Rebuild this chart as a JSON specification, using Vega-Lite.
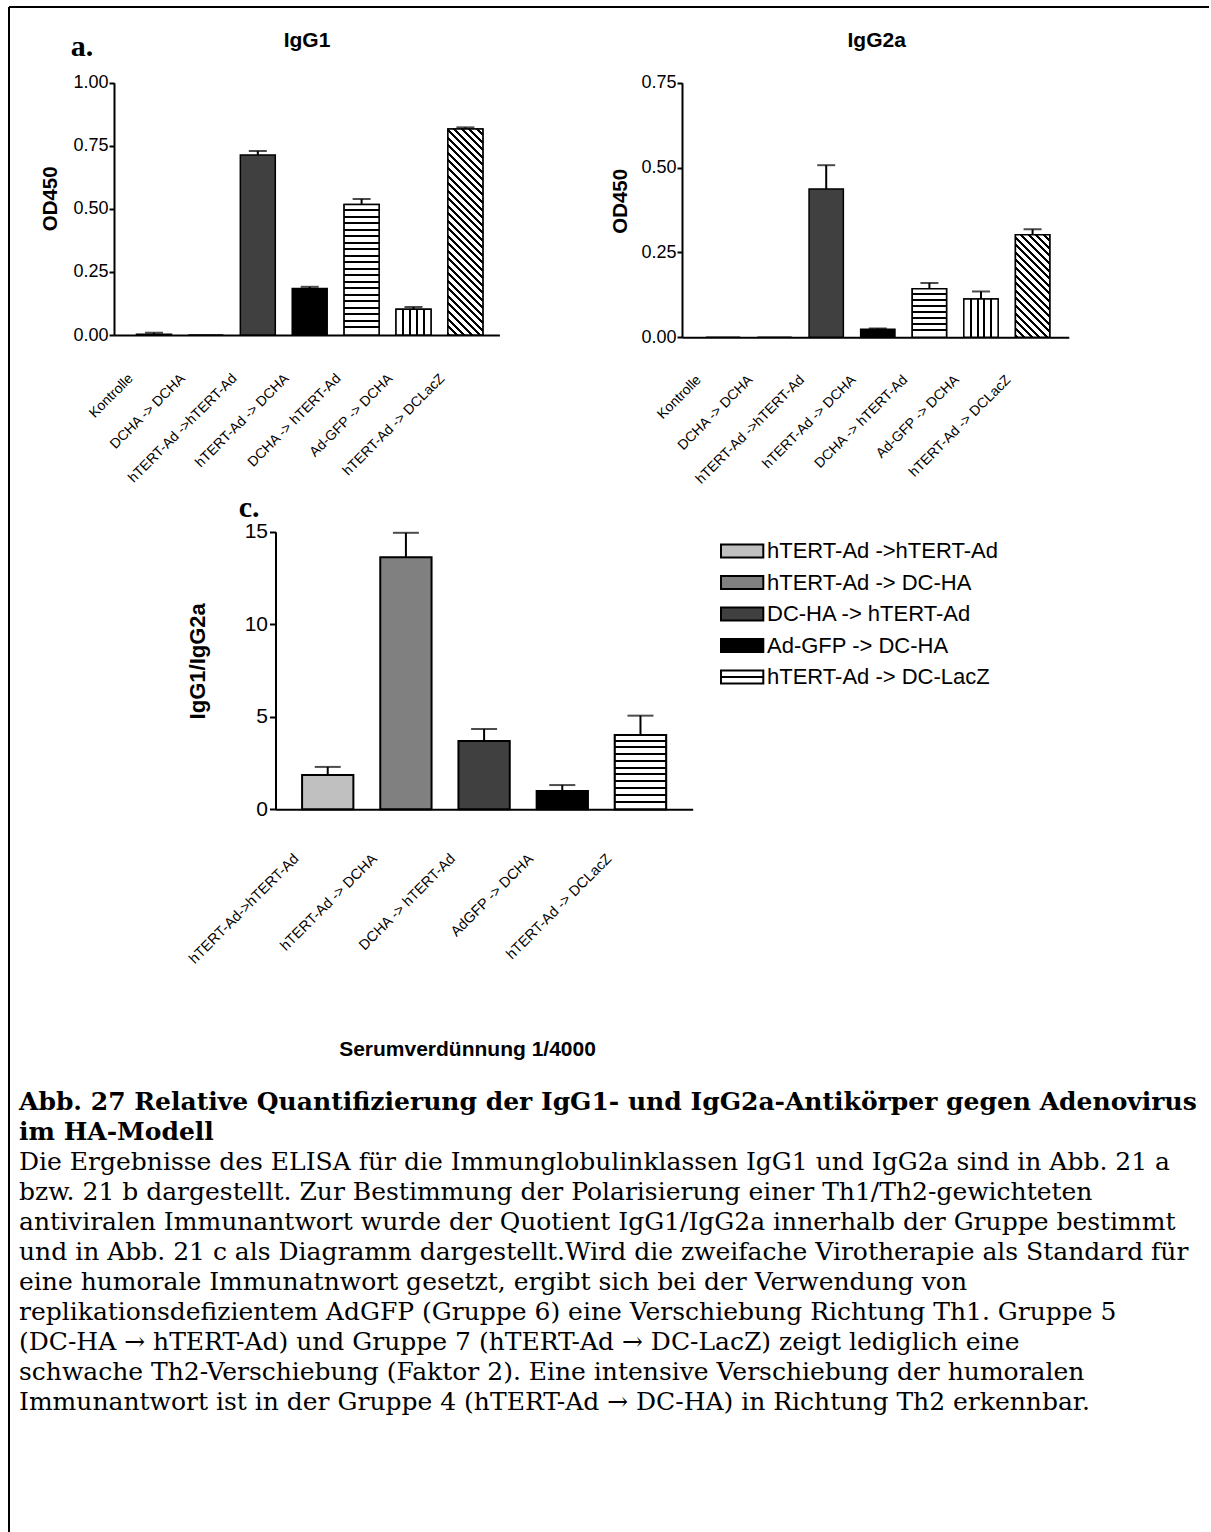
{
  "$schema": "https://vega.github.io/schema/vega-lite/v6.json",
  "width": 1202,
  "height": 1525,
  "autosize": {"type": "none"},
  "padding": {"left": 9, "top": 7, "right": 0, "bottom": 0},
  "background": "white",
  "config": {
    "font": "Liberation Sans",
    "view": {"stroke": "black", "strokeWidth": 2, "strokeDash": [1200, 2729, 1525, 0]},
    "axis": {"domainColor": "black", "domainWidth": 2, "tickColor": "black", "tickWidth": 2, "labelColor": "black", "titleColor": "black", "labelFont": "Liberation Sans", "titleFont": "Liberation Sans", "grid": false}
  },
  "datasets": {
    "igg1": [
      {"gruppe": "Kontrolle", "od": 0.003, "oben": 0.009},
      {"gruppe": "DCHA -> DCHA", "od": 0},
      {"gruppe": "hTERT-Ad ->hTERT-Ad", "od": 0.713, "oben": 0.729},
      {"gruppe": "hTERT-Ad -> DCHA", "od": 0.184, "oben": 0.191},
      {"gruppe": "DCHA -> hTERT-Ad", "od": 0.517, "oben": 0.539},
      {"gruppe": "Ad-GFP -> DCHA", "od": 0.102, "oben": 0.111},
      {"gruppe": "hTERT-Ad -> DCLacZ", "od": 0.816, "oben": 0.823}
    ],
    "igg2a": [
      {"gruppe": "Kontrolle", "od": 0},
      {"gruppe": "DCHA -> DCHA", "od": 0},
      {"gruppe": "hTERT-Ad ->hTERT-Ad", "od": 0.437, "oben": 0.507},
      {"gruppe": "hTERT-Ad -> DCHA", "od": 0.024, "oben": 0.026},
      {"gruppe": "DCHA -> hTERT-Ad", "od": 0.143, "oben": 0.16},
      {"gruppe": "Ad-GFP -> DCHA", "od": 0.113, "oben": 0.135},
      {"gruppe": "hTERT-Ad -> DCLacZ", "od": 0.302, "oben": 0.318}
    ],
    "quotient": [
      {"gruppe": "hTERT-Ad->hTERT-Ad", "legende": "hTERT-Ad ->hTERT-Ad", "quotient": 1.85, "oben": 2.29},
      {"gruppe": "hTERT-Ad -> DCHA", "legende": "hTERT-Ad -> DC-HA", "quotient": 13.62, "oben": 14.94},
      {"gruppe": "DCHA -> hTERT-Ad", "legende": "DC-HA -> hTERT-Ad", "quotient": 3.69, "oben": 4.34},
      {"gruppe": "AdGFP -> DCHA", "legende": "Ad-GFP -> DC-HA", "quotient": 0.99, "oben": 1.31},
      {"gruppe": "hTERT-Ad -> DCLacZ", "legende": "hTERT-Ad -> DC-LacZ", "quotient": 4.02, "oben": 5.06}
    ]
  },
  "layer": [
    {
      "data": {"name": "igg1"},
      "encoding": {
        "x": {"field": "gruppe", "type": "nominal", "sort": null,
          "scale": {"range": [105, 490.4], "paddingInner": 0.326, "paddingOuter": 0.376, "align": 0.577},
          "axis": {"orient": "bottom", "offset": -1197, "title": null, "ticks": false, "tickSize": 0, "labelAngle": -45, "labelAlign": "right", "labelBaseline": "middle", "labelOffset": -23, "labelPadding": 41, "labelFontSize": 14, "labelLimit": 300}},
        "y": {"field": "od", "type": "quantitative",
          "scale": {"domain": [0, 1], "range": [328, 75.7], "nice": false},
          "axis": {"orient": "left", "offset": -105, "values": [0, 0.25, 0.5, 0.75, 1], "format": ".2f", "tickSize": 5, "labelPadding": 1, "labelFontSize": 18, "title": "OD450", "titleFontSize": 20.5, "titleFontWeight": "bold", "titleX": -63.4, "titleY": 191.3, "titleAlign": "center", "titleBaseline": "middle", "titleAngle": -90}}
      },
      "layer": [
        {"mark": {"type": "bar", "stroke": "black", "strokeWidth": 1.5},
         "encoding": {"fill": {"field": "gruppe", "type": "nominal", "legend": null,
           "scale": {"domain": ["Kontrolle", "DCHA -> DCHA", "hTERT-Ad ->hTERT-Ad", "hTERT-Ad -> DCHA", "DCHA -> hTERT-Ad", "Ad-GFP -> DCHA", "hTERT-Ad -> DCLacZ"], "range": ["#ffffff", "#ffffff", "#404040", "#000000", "#ffffff", "#ffffff", "#ffffff"]}}}},
        {"transform": [{"filter": "datum.gruppe === 'DCHA -> hTERT-Ad'"}],
         "mark": {"type": "bar", "stroke": "black", "strokeWidth": 1.5,
           "fill": {"gradient": "linear", "x1": 0, "y1": 0, "x2": 0, "y2": 1, "stops": [
             {"offset":0.034,"color":"#fff"},{"offset":0.034,"color":"#000"},{"offset":0.05,"color":"#000"},{"offset":0.05,"color":"#fff"},
             {"offset":0.084,"color":"#fff"},{"offset":0.084,"color":"#000"},{"offset":0.1,"color":"#000"},{"offset":0.1,"color":"#fff"},
             {"offset":0.134,"color":"#fff"},{"offset":0.134,"color":"#000"},{"offset":0.15,"color":"#000"},{"offset":0.15,"color":"#fff"},
             {"offset":0.184,"color":"#fff"},{"offset":0.184,"color":"#000"},{"offset":0.2,"color":"#000"},{"offset":0.2,"color":"#fff"},
             {"offset":0.234,"color":"#fff"},{"offset":0.234,"color":"#000"},{"offset":0.25,"color":"#000"},{"offset":0.25,"color":"#fff"},
             {"offset":0.284,"color":"#fff"},{"offset":0.284,"color":"#000"},{"offset":0.3,"color":"#000"},{"offset":0.3,"color":"#fff"},
             {"offset":0.334,"color":"#fff"},{"offset":0.334,"color":"#000"},{"offset":0.35,"color":"#000"},{"offset":0.35,"color":"#fff"},
             {"offset":0.384,"color":"#fff"},{"offset":0.384,"color":"#000"},{"offset":0.4,"color":"#000"},{"offset":0.4,"color":"#fff"},
             {"offset":0.434,"color":"#fff"},{"offset":0.434,"color":"#000"},{"offset":0.45,"color":"#000"},{"offset":0.45,"color":"#fff"},
             {"offset":0.484,"color":"#fff"},{"offset":0.484,"color":"#000"},{"offset":0.5,"color":"#000"},{"offset":0.5,"color":"#fff"},
             {"offset":0.534,"color":"#fff"},{"offset":0.534,"color":"#000"},{"offset":0.55,"color":"#000"},{"offset":0.55,"color":"#fff"},
             {"offset":0.584,"color":"#fff"},{"offset":0.584,"color":"#000"},{"offset":0.6,"color":"#000"},{"offset":0.6,"color":"#fff"},
             {"offset":0.634,"color":"#fff"},{"offset":0.634,"color":"#000"},{"offset":0.65,"color":"#000"},{"offset":0.65,"color":"#fff"},
             {"offset":0.684,"color":"#fff"},{"offset":0.684,"color":"#000"},{"offset":0.7,"color":"#000"},{"offset":0.7,"color":"#fff"},
             {"offset":0.734,"color":"#fff"},{"offset":0.734,"color":"#000"},{"offset":0.75,"color":"#000"},{"offset":0.75,"color":"#fff"},
             {"offset":0.784,"color":"#fff"},{"offset":0.784,"color":"#000"},{"offset":0.8,"color":"#000"},{"offset":0.8,"color":"#fff"},
             {"offset":0.834,"color":"#fff"},{"offset":0.834,"color":"#000"},{"offset":0.85,"color":"#000"},{"offset":0.85,"color":"#fff"},
             {"offset":0.884,"color":"#fff"},{"offset":0.884,"color":"#000"},{"offset":0.9,"color":"#000"},{"offset":0.9,"color":"#fff"},
             {"offset":0.934,"color":"#fff"},{"offset":0.934,"color":"#000"},{"offset":0.95,"color":"#000"},{"offset":0.95,"color":"#fff"}]}}},
        {"transform": [{"filter": "datum.gruppe === 'Ad-GFP -> DCHA'"}],
         "mark": {"type": "bar", "stroke": "black", "strokeWidth": 1.5,
           "fill": {"gradient": "linear", "x1": 0, "y1": 0, "x2": 1, "y2": 0, "stops": [
             {"offset":0.17,"color":"#fff"},{"offset":0.17,"color":"#000"},{"offset":0.23,"color":"#000"},{"offset":0.23,"color":"#fff"},
             {"offset":0.37,"color":"#fff"},{"offset":0.37,"color":"#000"},{"offset":0.43,"color":"#000"},{"offset":0.43,"color":"#fff"},
             {"offset":0.57,"color":"#fff"},{"offset":0.57,"color":"#000"},{"offset":0.63,"color":"#000"},{"offset":0.63,"color":"#fff"},
             {"offset":0.77,"color":"#fff"},{"offset":0.77,"color":"#000"},{"offset":0.83,"color":"#000"},{"offset":0.83,"color":"#fff"}]}}},
        {"transform": [{"filter": "datum.gruppe === 'hTERT-Ad -> DCLacZ'"}],
         "mark": {"type": "bar", "stroke": "black", "strokeWidth": 1.5,
           "fill": {"gradient": "linear", "x1": 0, "y1": 1, "x2": 0.1933, "y2": -0.1371, "stops": [
             {"offset":0,"color":"#000"},{"offset":0.0125,"color":"#000"},{"offset":0.0125,"color":"#fff"},
             {"offset":0.03125,"color":"#fff"},{"offset":0.03125,"color":"#000"},{"offset":0.04375,"color":"#000"},{"offset":0.04375,"color":"#fff"},
             {"offset":0.0625,"color":"#fff"},{"offset":0.0625,"color":"#000"},{"offset":0.075,"color":"#000"},{"offset":0.075,"color":"#fff"},
             {"offset":0.09375,"color":"#fff"},{"offset":0.09375,"color":"#000"},{"offset":0.10625,"color":"#000"},{"offset":0.10625,"color":"#fff"},
             {"offset":0.125,"color":"#fff"},{"offset":0.125,"color":"#000"},{"offset":0.1375,"color":"#000"},{"offset":0.1375,"color":"#fff"},
             {"offset":0.15625,"color":"#fff"},{"offset":0.15625,"color":"#000"},{"offset":0.16875,"color":"#000"},{"offset":0.16875,"color":"#fff"},
             {"offset":0.1875,"color":"#fff"},{"offset":0.1875,"color":"#000"},{"offset":0.2,"color":"#000"},{"offset":0.2,"color":"#fff"},
             {"offset":0.21875,"color":"#fff"},{"offset":0.21875,"color":"#000"},{"offset":0.23125,"color":"#000"},{"offset":0.23125,"color":"#fff"},
             {"offset":0.25,"color":"#fff"},{"offset":0.25,"color":"#000"},{"offset":0.2625,"color":"#000"},{"offset":0.2625,"color":"#fff"},
             {"offset":0.28125,"color":"#fff"},{"offset":0.28125,"color":"#000"},{"offset":0.29375,"color":"#000"},{"offset":0.29375,"color":"#fff"},
             {"offset":0.3125,"color":"#fff"},{"offset":0.3125,"color":"#000"},{"offset":0.325,"color":"#000"},{"offset":0.325,"color":"#fff"},
             {"offset":0.34375,"color":"#fff"},{"offset":0.34375,"color":"#000"},{"offset":0.35625,"color":"#000"},{"offset":0.35625,"color":"#fff"},
             {"offset":0.375,"color":"#fff"},{"offset":0.375,"color":"#000"},{"offset":0.3875,"color":"#000"},{"offset":0.3875,"color":"#fff"},
             {"offset":0.40625,"color":"#fff"},{"offset":0.40625,"color":"#000"},{"offset":0.41875,"color":"#000"},{"offset":0.41875,"color":"#fff"},
             {"offset":0.4375,"color":"#fff"},{"offset":0.4375,"color":"#000"},{"offset":0.45,"color":"#000"},{"offset":0.45,"color":"#fff"},
             {"offset":0.46875,"color":"#fff"},{"offset":0.46875,"color":"#000"},{"offset":0.48125,"color":"#000"},{"offset":0.48125,"color":"#fff"},
             {"offset":0.5,"color":"#fff"},{"offset":0.5,"color":"#000"},{"offset":0.5125,"color":"#000"},{"offset":0.5125,"color":"#fff"},
             {"offset":0.53125,"color":"#fff"},{"offset":0.53125,"color":"#000"},{"offset":0.54375,"color":"#000"},{"offset":0.54375,"color":"#fff"},
             {"offset":0.5625,"color":"#fff"},{"offset":0.5625,"color":"#000"},{"offset":0.575,"color":"#000"},{"offset":0.575,"color":"#fff"},
             {"offset":0.59375,"color":"#fff"},{"offset":0.59375,"color":"#000"},{"offset":0.60625,"color":"#000"},{"offset":0.60625,"color":"#fff"},
             {"offset":0.625,"color":"#fff"},{"offset":0.625,"color":"#000"},{"offset":0.6375,"color":"#000"},{"offset":0.6375,"color":"#fff"},
             {"offset":0.65625,"color":"#fff"},{"offset":0.65625,"color":"#000"},{"offset":0.66875,"color":"#000"},{"offset":0.66875,"color":"#fff"},
             {"offset":0.6875,"color":"#fff"},{"offset":0.6875,"color":"#000"},{"offset":0.7,"color":"#000"},{"offset":0.7,"color":"#fff"},
             {"offset":0.71875,"color":"#fff"},{"offset":0.71875,"color":"#000"},{"offset":0.73125,"color":"#000"},{"offset":0.73125,"color":"#fff"},
             {"offset":0.75,"color":"#fff"},{"offset":0.75,"color":"#000"},{"offset":0.7625,"color":"#000"},{"offset":0.7625,"color":"#fff"},
             {"offset":0.78125,"color":"#fff"},{"offset":0.78125,"color":"#000"},{"offset":0.79375,"color":"#000"},{"offset":0.79375,"color":"#fff"},
             {"offset":0.8125,"color":"#fff"},{"offset":0.8125,"color":"#000"},{"offset":0.825,"color":"#000"},{"offset":0.825,"color":"#fff"},
             {"offset":0.84375,"color":"#fff"},{"offset":0.84375,"color":"#000"},{"offset":0.85625,"color":"#000"},{"offset":0.85625,"color":"#fff"},
             {"offset":0.875,"color":"#fff"},{"offset":0.875,"color":"#000"},{"offset":0.8875,"color":"#000"},{"offset":0.8875,"color":"#fff"},
             {"offset":0.90625,"color":"#fff"},{"offset":0.90625,"color":"#000"},{"offset":0.91875,"color":"#000"},{"offset":0.91875,"color":"#fff"},
             {"offset":0.9375,"color":"#fff"},{"offset":0.9375,"color":"#000"},{"offset":0.95,"color":"#000"},{"offset":0.95,"color":"#fff"},
             {"offset":0.96875,"color":"#fff"},{"offset":0.96875,"color":"#000"},{"offset":0.98125,"color":"#000"},{"offset":0.98125,"color":"#fff"}]}}},
        {"mark": {"type": "rule", "color": "black", "strokeWidth": 2},
         "encoding": {"y2": {"field": "oben"}}},
        {"mark": {"type": "tick", "color": "black", "thickness": 2, "size": 18},
         "encoding": {"y": {"field": "oben", "type": "quantitative",
           "scale": {"domain": [0, 1], "range": [328, 75.7], "nice": false},
           "axis": {"orient": "left", "offset": -105, "values": [0, 0.25, 0.5, 0.75, 1], "format": ".2f", "tickSize": 5, "labelPadding": 1, "labelFontSize": 18, "title": "OD450", "titleFontSize": 20.5, "titleFontWeight": "bold", "titleX": -63.4, "titleY": 191.3, "titleAlign": "center", "titleBaseline": "middle", "titleAngle": -90}}}}
      ]
    },
    {
      "data": {"name": "igg2a"},
      "encoding": {
        "x": {"field": "gruppe", "type": "nominal", "sort": null,
          "scale": {"range": [673, 1059.8], "paddingInner": 0.335, "paddingOuter": 0.416, "align": 0.556},
          "axis": {"orient": "bottom", "offset": -1194.7, "title": null, "ticks": false, "tickSize": 0, "labelAngle": -45, "labelAlign": "right", "labelBaseline": "middle", "labelOffset": -24, "labelPadding": 40, "labelFontSize": 14, "labelLimit": 300}},
        "y": {"field": "od", "type": "quantitative",
          "scale": {"domain": [0, 0.75], "range": [330.3, 75.7], "nice": false},
          "axis": {"orient": "left", "offset": -673, "values": [0, 0.25, 0.5, 0.75], "format": ".2f", "tickSize": 5, "labelPadding": 1, "labelFontSize": 18, "title": "OD450", "titleFontSize": 20.5, "titleFontWeight": "bold", "titleX": -61.5, "titleY": 193.8, "titleAlign": "center", "titleBaseline": "middle", "titleAngle": -90}}
      },
      "layer": [
        {"mark": {"type": "bar", "stroke": "black", "strokeWidth": 1.5},
         "encoding": {"fill": {"field": "gruppe", "type": "nominal", "legend": null,
           "scale": {"domain": ["Kontrolle", "DCHA -> DCHA", "hTERT-Ad ->hTERT-Ad", "hTERT-Ad -> DCHA", "DCHA -> hTERT-Ad", "Ad-GFP -> DCHA", "hTERT-Ad -> DCLacZ"], "range": ["#ffffff", "#ffffff", "#404040", "#000000", "#ffffff", "#ffffff", "#ffffff"]}}}},
        {"transform": [{"filter": "datum.gruppe === 'DCHA -> hTERT-Ad'"}],
         "mark": {"type": "bar", "stroke": "black", "strokeWidth": 1.5,
           "fill": {"gradient": "linear", "x1": 0, "y1": 0, "x2": 0, "y2": 1, "stops": [
             {"offset":0.084,"color":"#fff"},{"offset":0.084,"color":"#000"},{"offset":0.125,"color":"#000"},{"offset":0.125,"color":"#fff"},
             {"offset":0.209,"color":"#fff"},{"offset":0.209,"color":"#000"},{"offset":0.25,"color":"#000"},{"offset":0.25,"color":"#fff"},
             {"offset":0.334,"color":"#fff"},{"offset":0.334,"color":"#000"},{"offset":0.375,"color":"#000"},{"offset":0.375,"color":"#fff"},
             {"offset":0.459,"color":"#fff"},{"offset":0.459,"color":"#000"},{"offset":0.5,"color":"#000"},{"offset":0.5,"color":"#fff"},
             {"offset":0.584,"color":"#fff"},{"offset":0.584,"color":"#000"},{"offset":0.625,"color":"#000"},{"offset":0.625,"color":"#fff"},
             {"offset":0.709,"color":"#fff"},{"offset":0.709,"color":"#000"},{"offset":0.75,"color":"#000"},{"offset":0.75,"color":"#fff"},
             {"offset":0.834,"color":"#fff"},{"offset":0.834,"color":"#000"},{"offset":0.875,"color":"#000"},{"offset":0.875,"color":"#fff"}]}}},
        {"transform": [{"filter": "datum.gruppe === 'Ad-GFP -> DCHA'"}],
         "mark": {"type": "bar", "stroke": "black", "strokeWidth": 1.5,
           "fill": {"gradient": "linear", "x1": 0, "y1": 0, "x2": 1, "y2": 0, "stops": [
             {"offset":0.17,"color":"#fff"},{"offset":0.17,"color":"#000"},{"offset":0.23,"color":"#000"},{"offset":0.23,"color":"#fff"},
             {"offset":0.37,"color":"#fff"},{"offset":0.37,"color":"#000"},{"offset":0.43,"color":"#000"},{"offset":0.43,"color":"#fff"},
             {"offset":0.57,"color":"#fff"},{"offset":0.57,"color":"#000"},{"offset":0.63,"color":"#000"},{"offset":0.63,"color":"#fff"},
             {"offset":0.77,"color":"#fff"},{"offset":0.77,"color":"#000"},{"offset":0.83,"color":"#000"},{"offset":0.83,"color":"#fff"}]}}},
        {"transform": [{"filter": "datum.gruppe === 'hTERT-Ad -> DCLacZ'"}],
         "mark": {"type": "bar", "stroke": "black", "strokeWidth": 1.5,
           "fill": {"gradient": "linear", "x1": 0, "y1": 1, "x2": 0.4012, "y2": -0.2002, "stops": [
             {"offset":0,"color":"#000"},{"offset":0.022,"color":"#000"},{"offset":0.022,"color":"#fff"},
             {"offset":0.0556,"color":"#fff"},{"offset":0.0556,"color":"#000"},{"offset":0.0776,"color":"#000"},{"offset":0.0776,"color":"#fff"},
             {"offset":0.1111,"color":"#fff"},{"offset":0.1111,"color":"#000"},{"offset":0.1331,"color":"#000"},{"offset":0.1331,"color":"#fff"},
             {"offset":0.1667,"color":"#fff"},{"offset":0.1667,"color":"#000"},{"offset":0.1887,"color":"#000"},{"offset":0.1887,"color":"#fff"},
             {"offset":0.2222,"color":"#fff"},{"offset":0.2222,"color":"#000"},{"offset":0.2442,"color":"#000"},{"offset":0.2442,"color":"#fff"},
             {"offset":0.2778,"color":"#fff"},{"offset":0.2778,"color":"#000"},{"offset":0.2998,"color":"#000"},{"offset":0.2998,"color":"#fff"},
             {"offset":0.3333,"color":"#fff"},{"offset":0.3333,"color":"#000"},{"offset":0.3553,"color":"#000"},{"offset":0.3553,"color":"#fff"},
             {"offset":0.3889,"color":"#fff"},{"offset":0.3889,"color":"#000"},{"offset":0.4109,"color":"#000"},{"offset":0.4109,"color":"#fff"},
             {"offset":0.4444,"color":"#fff"},{"offset":0.4444,"color":"#000"},{"offset":0.4664,"color":"#000"},{"offset":0.4664,"color":"#fff"},
             {"offset":0.5,"color":"#fff"},{"offset":0.5,"color":"#000"},{"offset":0.522,"color":"#000"},{"offset":0.522,"color":"#fff"},
             {"offset":0.5556,"color":"#fff"},{"offset":0.5556,"color":"#000"},{"offset":0.5776,"color":"#000"},{"offset":0.5776,"color":"#fff"},
             {"offset":0.6111,"color":"#fff"},{"offset":0.6111,"color":"#000"},{"offset":0.6331,"color":"#000"},{"offset":0.6331,"color":"#fff"},
             {"offset":0.6667,"color":"#fff"},{"offset":0.6667,"color":"#000"},{"offset":0.6887,"color":"#000"},{"offset":0.6887,"color":"#fff"},
             {"offset":0.7222,"color":"#fff"},{"offset":0.7222,"color":"#000"},{"offset":0.7442,"color":"#000"},{"offset":0.7442,"color":"#fff"},
             {"offset":0.7778,"color":"#fff"},{"offset":0.7778,"color":"#000"},{"offset":0.7998,"color":"#000"},{"offset":0.7998,"color":"#fff"},
             {"offset":0.8333,"color":"#fff"},{"offset":0.8333,"color":"#000"},{"offset":0.8553,"color":"#000"},{"offset":0.8553,"color":"#fff"},
             {"offset":0.8889,"color":"#fff"},{"offset":0.8889,"color":"#000"},{"offset":0.9109,"color":"#000"},{"offset":0.9109,"color":"#fff"},
             {"offset":0.9444,"color":"#fff"},{"offset":0.9444,"color":"#000"},{"offset":0.9664,"color":"#000"},{"offset":0.9664,"color":"#fff"}]}}},
        {"mark": {"type": "rule", "color": "black", "strokeWidth": 2},
         "encoding": {"y2": {"field": "oben"}}},
        {"mark": {"type": "tick", "color": "black", "thickness": 2, "size": 18},
         "encoding": {"y": {"field": "oben", "type": "quantitative",
           "scale": {"domain": [0, 0.75], "range": [330.3, 75.7], "nice": false},
           "axis": {"orient": "left", "offset": -673, "values": [0, 0.25, 0.5, 0.75], "format": ".2f", "tickSize": 5, "labelPadding": 1, "labelFontSize": 18, "title": "OD450", "titleFontSize": 20.5, "titleFontWeight": "bold", "titleX": -61.5, "titleY": 193.8, "titleAlign": "center", "titleBaseline": "middle", "titleAngle": -90}}}}
      ]
    },
    {
      "data": {"name": "quotient"},
      "encoding": {
        "x": {"field": "gruppe", "type": "nominal", "sort": null,
          "scale": {"range": [266.5, 683.7], "paddingInner": 0.344, "paddingOuter": 0.34, "align": 0.5},
          "axis": {"orient": "bottom", "offset": -722.7, "ticks": false, "tickSize": 0, "labelAngle": -45, "labelAlign": "right", "labelBaseline": "middle", "labelOffset": -31, "labelPadding": 47, "labelFontSize": 14.5, "labelLimit": 300,
            "title": "Serumverdünnung 1/4000", "titleFontSize": 21, "titleFontWeight": "bold", "titleX": 458, "titleY": 240, "titleAlign": "center", "titleBaseline": "middle", "titleAngle": 0}},
        "y": {"field": "quotient", "type": "quantitative",
          "scale": {"domain": [0, 15], "range": [802.3, 524.7], "nice": false},
          "axis": {"orient": "left", "offset": -266.5, "values": [0, 5, 10, 15], "format": "d", "tickSize": 6, "labelPadding": 2, "labelFontSize": 21, "title": "IgG1/IgG2a", "titleFontSize": 22, "titleFontWeight": "bold", "titleX": -77.6, "titleY": 653.8, "titleAlign": "center", "titleBaseline": "middle", "titleAngle": -90}}
      },
      "layer": [
        {"mark": {"type": "bar", "stroke": "black", "strokeWidth": 2},
         "encoding": {"fill": {"field": "legende", "type": "nominal", "sort": null,
           "scale": {"domain": ["hTERT-Ad ->hTERT-Ad", "hTERT-Ad -> DC-HA", "DC-HA -> hTERT-Ad", "Ad-GFP -> DC-HA", "hTERT-Ad -> DC-LacZ"],
             "range": ["#c0c0c0", "#808080", "#404040", "#000000", {"expr": "{gradient: 'linear', x1: 0, y1: 0, x2: 0, y2: 1, stops: [{offset: 0.42, color: '#fff'}, {offset: 0.42, color: '#000'}, {offset: 0.58, color: '#000'}, {offset: 0.58, color: '#fff'}]}"}]},
           "legend": {"orient": "none", "legendX": 707.6, "legendY": 533, "title": null, "symbolType": "M-1,-1H5.41V1H-1Z", "symbolSize": 174.24, "symbolStrokeColor": "black", "symbolStrokeWidth": 2, "symbolOpacity": 1, "labelFont": "Liberation Sans", "labelFontSize": 22, "labelColor": "black", "labelOffset": 28.4, "labelLimit": 500, "rowPadding": 9.5, "padding": 0}}}},
        {"transform": [{"filter": "datum.gruppe === 'hTERT-Ad -> DCLacZ'"}],
         "mark": {"type": "bar", "stroke": "black", "strokeWidth": 2,
           "fill": {"gradient": "linear", "x1": 0, "y1": 0, "x2": 0, "y2": 1, "stops": [
             {"offset":0.0639,"color":"#fff"},{"offset":0.0639,"color":"#000"},{"offset":0.0909,"color":"#000"},{"offset":0.0909,"color":"#fff"},
             {"offset":0.1549,"color":"#fff"},{"offset":0.1549,"color":"#000"},{"offset":0.1818,"color":"#000"},{"offset":0.1818,"color":"#fff"},
             {"offset":0.2457,"color":"#fff"},{"offset":0.2457,"color":"#000"},{"offset":0.2727,"color":"#000"},{"offset":0.2727,"color":"#fff"},
             {"offset":0.3366,"color":"#fff"},{"offset":0.3366,"color":"#000"},{"offset":0.3636,"color":"#000"},{"offset":0.3636,"color":"#fff"},
             {"offset":0.4275,"color":"#fff"},{"offset":0.4275,"color":"#000"},{"offset":0.4545,"color":"#000"},{"offset":0.4545,"color":"#fff"},
             {"offset":0.5185,"color":"#fff"},{"offset":0.5185,"color":"#000"},{"offset":0.5455,"color":"#000"},{"offset":0.5455,"color":"#fff"},
             {"offset":0.6094,"color":"#fff"},{"offset":0.6094,"color":"#000"},{"offset":0.6364,"color":"#000"},{"offset":0.6364,"color":"#fff"},
             {"offset":0.7003,"color":"#fff"},{"offset":0.7003,"color":"#000"},{"offset":0.7273,"color":"#000"},{"offset":0.7273,"color":"#fff"},
             {"offset":0.7912,"color":"#fff"},{"offset":0.7912,"color":"#000"},{"offset":0.8182,"color":"#000"},{"offset":0.8182,"color":"#fff"},
             {"offset":0.8821,"color":"#fff"},{"offset":0.8821,"color":"#000"},{"offset":0.9091,"color":"#000"},{"offset":0.9091,"color":"#fff"}]}}},
        {"mark": {"type": "rule", "color": "black", "strokeWidth": 2},
         "encoding": {"y2": {"field": "oben"}}},
        {"mark": {"type": "tick", "color": "black", "thickness": 2, "size": 26},
         "encoding": {"y": {"field": "oben", "type": "quantitative",
           "scale": {"domain": [0, 15], "range": [802.3, 524.7], "nice": false},
           "axis": {"orient": "left", "offset": -266.5, "values": [0, 5, 10, 15], "format": "d", "tickSize": 6, "labelPadding": 2, "labelFontSize": 21, "title": "IgG1/IgG2a", "titleFontSize": 22, "titleFontWeight": "bold", "titleX": -77.6, "titleY": 653.8, "titleAlign": "center", "titleBaseline": "middle", "titleAngle": -90}}}}
      ]
    },
    {"data": {"values": [{}]}, "mark": {"type": "text", "text": "a.", "x": 61.8, "y": 49, "align": "left", "baseline": "alphabetic", "font": "Liberation Serif", "fontWeight": "bold", "fontSize": 30, "color": "black"}},
    {"data": {"values": [{}]}, "mark": {"type": "text", "text": "IgG1", "x": 298, "y": 40, "align": "center", "baseline": "alphabetic", "font": "Liberation Sans", "fontWeight": "bold", "fontSize": 21, "color": "black"}},
    {"data": {"values": [{}]}, "mark": {"type": "text", "text": "IgG2a", "x": 867.7, "y": 40, "align": "center", "baseline": "alphabetic", "font": "Liberation Sans", "fontWeight": "bold", "fontSize": 21, "color": "black"}},
    {"data": {"values": [{}]}, "mark": {"type": "text", "text": "c.", "x": 229.8, "y": 509.7, "align": "left", "baseline": "alphabetic", "font": "Liberation Serif", "fontWeight": "bold", "fontSize": 30, "color": "black"}},
    {"data": {"values": [{}]}, "mark": {"type": "text", "x": 10, "y": 1103, "align": "left", "baseline": "alphabetic", "font": "DejaVu Serif", "fontWeight": "bold", "fontSize": 25, "lineHeight": 30, "color": "black",
      "text": ["Abb. 27 Relative Quantifizierung der IgG1- und IgG2a-Antikörper gegen Adenovirus", "im HA-Modell"]}},
    {"data": {"values": [{}]}, "mark": {"type": "text", "x": 10, "y": 1163, "align": "left", "baseline": "alphabetic", "font": "DejaVu Serif", "fontSize": 25, "lineHeight": 30, "color": "black",
      "text": [
        "Die Ergebnisse des ELISA für die Immunglobulinklassen IgG1 und IgG2a sind in Abb. 21 a",
        "bzw. 21 b dargestellt. Zur Bestimmung der Polarisierung einer Th1/Th2-gewichteten",
        "antiviralen Immunantwort wurde der Quotient IgG1/IgG2a innerhalb der Gruppe bestimmt",
        "und in Abb. 21 c als Diagramm dargestellt.Wird die zweifache Virotherapie als Standard für",
        "eine humorale Immunatnwort gesetzt, ergibt sich bei der Verwendung von",
        "replikationsdefizientem AdGFP (Gruppe 6) eine Verschiebung Richtung Th1. Gruppe 5",
        "(DC-HA → hTERT-Ad) und Gruppe 7 (hTERT-Ad → DC-LacZ) zeigt lediglich eine",
        "schwache Th2-Verschiebung (Faktor 2). Eine intensive Verschiebung der humoralen",
        "Immunantwort ist in der Gruppe 4 (hTERT-Ad → DC-HA) in Richtung Th2 erkennbar."
      ]}}
  ],
  "resolve": {
    "scale": {"x": "independent", "y": "independent", "fill": "independent"},
    "axis": {"x": "independent", "y": "independent"},
    "legend": {"fill": "independent"}
  }
}
